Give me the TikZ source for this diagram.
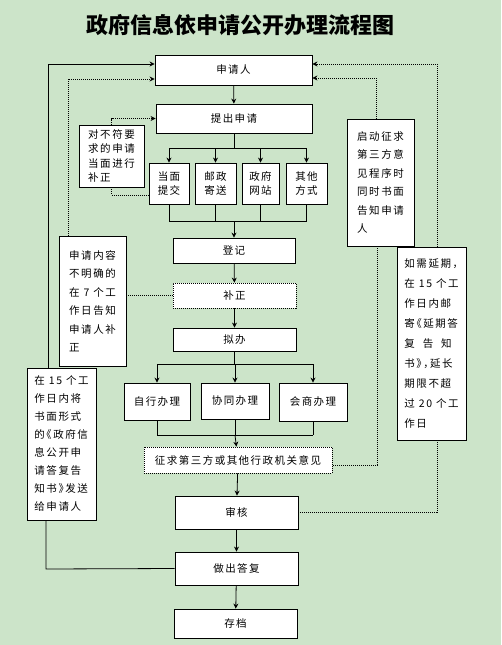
\documentclass[tikz,border=0pt]{standalone}
\usepackage{fontspec}
\setmainfont{Noto Sans CJK SC}
\usetikzlibrary{arrows.meta}
\definecolor{bggreen}{RGB}{204,228,201}

\tikzset{
  box/.style={draw, fill=white, line width=0.8pt, inner sep=2pt, align=center,
    font=\fontsize{10.5}{14.5}\selectfont\addfontfeatures{LetterSpace=14}},
  dotbox/.style={box, dash pattern=on 1pt off 1pt},
  note/.style={draw, fill=white, line width=0.8pt, inner sep=0pt, align=left,
    font=\fontsize{10.5}{#1}\selectfont\addfontfeatures{LetterSpace=15,RawFeature=+halt}},
  note/.default=18.5,
  link/.style={line width=0.8pt},
  dotlink/.style={line width=0.8pt, dash pattern=on 1pt off 1pt},
}

\begin{document}
\begin{tikzpicture}[>={Stealth[length=5pt,width=5pt]}, x=1pt, y=-1pt]
	% Achtergrond en titel
	\fill[bggreen] (0,0) rectangle (501,645);
	\node[font=\fontsize{22}{22}\selectfont\bfseries] (title) at (240,25) {政府信息依申请公开办理流程图};

	% Hoofdstroom
	\node[box, minimum width=157pt, minimum height=30pt] (applicant) at (233.5,70) {申请人};
	\node[box, minimum width=156pt, minimum height=29pt] (submit) at (234,118.5) {提出申请};
	\node[box, minimum width=40pt, minimum height=41pt] (face) at (169,183.5) {当面\\提交};
	\node[box, minimum width=41pt, minimum height=41pt] (post) at (215.5,183.5) {邮政\\寄送};
	\node[box, minimum width=37pt, minimum height=41pt] (web) at (260.5,183.5) {政府\\网站};
	\node[box, minimum width=41pt, minimum height=41pt] (other) at (306.5,183.5) {其他\\方式};
	\node[box, minimum width=122pt, minimum height=25pt] (register) at (234,250.5) {登记};
	\node[dotbox, minimum width=123pt, minimum height=25pt] (correct) at (234.5,295.5) {补正};
	\node[box, minimum width=123pt, minimum height=23pt] (draft) at (234.5,339.5) {拟办};
	\node[box, minimum width=66pt, minimum height=37pt] (self) at (157,401.5) {自行办理};
	\node[box, minimum width=68pt, minimum height=36pt] (coop) at (235,401) {协同办理};
	\node[box, minimum width=68pt, minimum height=38pt] (consult) at (313,402) {会商办理};
	\node[dotbox, minimum width=188pt, minimum height=26pt] (solicit) at (238,460) {征求第三方或其他行政机关意见};
	\node[box, minimum width=123pt, minimum height=33pt] (review) at (236.5,512.5) {审核};
	\node[box, minimum width=123pt, minimum height=33pt] (reply) at (236.5,568.5) {做出答复};
	\node[box, minimum width=123pt, minimum height=29pt] (archive) at (235.5,623.5) {存档};

	% Toelichtingen links en rechts
	\node[note=14.5, minimum width=65pt, minimum height=62pt] (onsite) at (111.5,156) {对不符要\\求的申请\\当面进行\\补正};
	\node[note, minimum width=67pt, minimum height=130pt] (unclear) at (92.5,301) {申请内容\\不明确的\\在 7 个工\\作日告知\\申请人补\\正};
	\node[note=18, minimum width=69pt, minimum height=152pt] (notify) at (61.5,444) {在 15 个工\\作日内将\\书面形式\\的《政府信\\息公开申\\请答复告\\知书》发送\\给申请人};
	\node[note, minimum width=67pt, minimum height=127pt] (third) at (380.5,182.5) {启动征求\\第三方意\\见程序时\\同时书面\\告知申请\\人};
	\node[note=20, minimum width=69pt, minimum height=193pt] (extend) at (431.5,343.5) {如需延期，\\在 15 个工\\作日内邮\\寄《延期答\\复\ \ 告\ \ 知\\书》，延长\\期限不超\\过 20 个工\\作日};

	% Hulppunten
	\coordinate (fork1) at (234,148);
	\coordinate (join1) at (234,221);
	\coordinate (fork2) at (234.5,364);
	\coordinate (join2) at (235,435);
	\coordinate (lowleft) at (46,569);
	\coordinate (topleft) at (48,64);
	\coordinate (dotleft) at (68,79);
	\coordinate (onsitelow) at (109,195);
	\coordinate (dotright) at (376,78);
	\coordinate (thirdlow) at (377,465);
	\coordinate (dotouter) at (437,64);

	% Pijlen hoofdstroom
	\draw[link, ->] (applicant) -- (submit);
	\draw[link] (submit) -- (fork1);
	\draw[link] (face |- fork1) -- (other |- fork1);
	\foreach \way in {face, post, web, other}
		\draw[link, ->] (\way |- fork1) -- (\way);
	\foreach \way in {face, post, web, other}
		\draw[link] (\way) -- (\way |- join1);
	\draw[link] (face |- join1) -- (other |- join1);
	\draw[link, ->] (join1) -- (register);
	\draw[link, ->] (register) -- (correct);
	\draw[link, ->] (correct) -- (draft);
	\draw[link] (draft) -- (fork2);
	\draw[link] (self |- fork2) -- (consult |- fork2);
	\foreach \way in {self, coop, consult}
		\draw[link, ->] (\way |- fork2) -- (\way);
	\foreach \way in {self, coop, consult}
		\draw[link] (\way) -- (\way |- join2);
	\draw[link] (self |- join2) -- (consult |- join2);
	\draw[link, ->] (join2) -- (solicit);
	\draw[link, ->] (solicit) -- (review);
	\draw[link, ->] (review) -- (reply);
	\draw[link, ->] (reply) -- (archive);

	% Terugkoppeling links
	\draw[link] (reply.west) -- (lowleft) -- (lowleft |- notify.south);
	\draw[link, ->] (topleft |- notify.north) -- (topleft) -- (topleft -| applicant.west);
	\draw[dotlink, ->] (dotleft |- unclear.north) -- (dotleft) -- (dotleft -| applicant.west);
	\draw[dotlink] (correct.west -| unclear.east) -- (correct.west);
	\draw[dotlink, ->] (onsite.north) -- (onsite.north |- submit.west) -- (submit.west);
	\draw[dotlink] (onsite.south) -- (onsite.south |- onsitelow) -- (onsitelow -| face.west);

	% Terugkoppeling rechts
	\draw[dotlink, ->] (dotright |- third.north) -- (dotright) -- (dotright -| applicant.east);
	\draw[dotlink] (thirdlow |- third.south) -- (thirdlow) -- (thirdlow -| solicit.east);
	\draw[dotlink, ->] (dotouter |- extend.north) -- (dotouter) -- (dotouter -| applicant.east);
	\draw[dotlink] (dotouter |- extend.south) -- (dotouter |- review.east) -- (review.east);
\end{tikzpicture}
\end{document}
